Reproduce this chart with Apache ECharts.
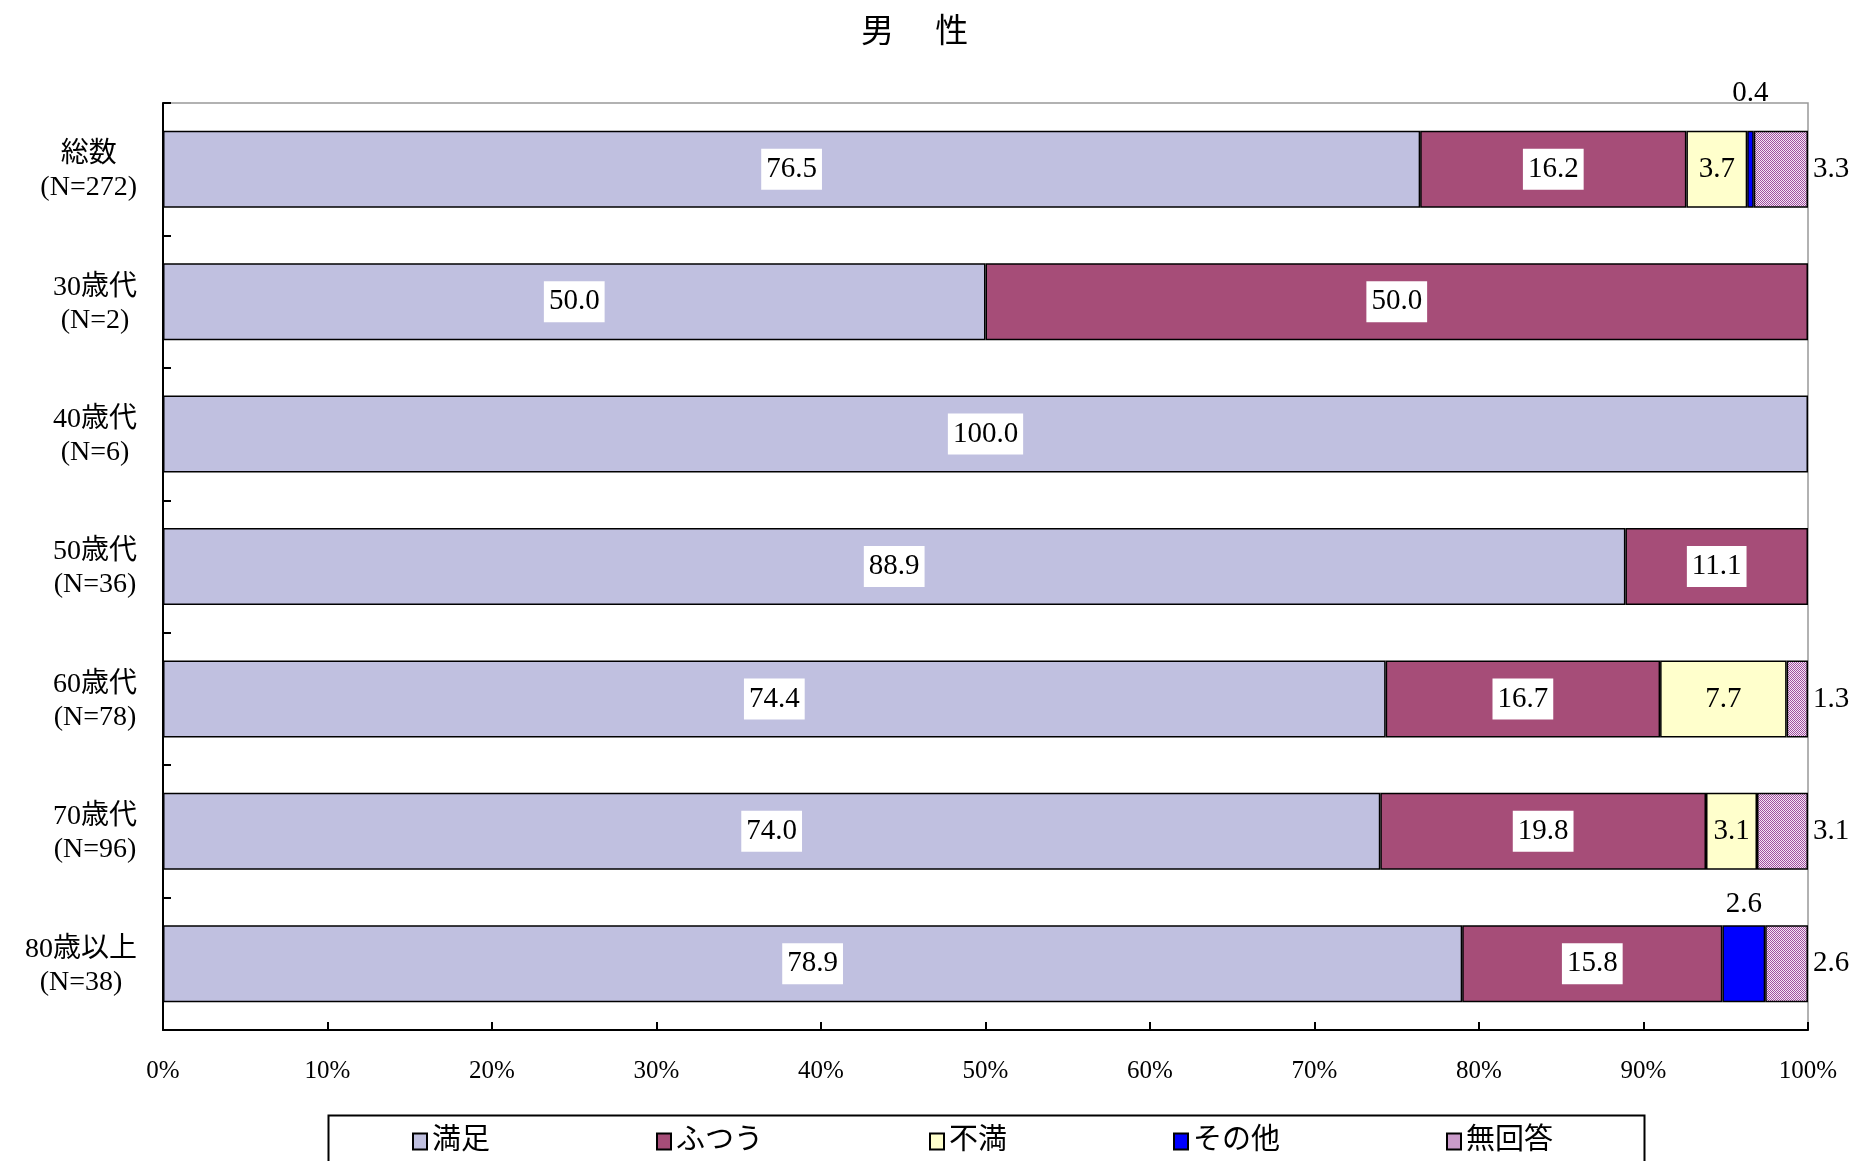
<!DOCTYPE html>
<html><head><meta charset="utf-8">
<script src="https://cdn.jsdelivr.net/npm/echarts@6/dist/echarts.min.js"></script>
<style>html,body{margin:0;padding:0;background:#fff}#c{width:1868px;height:1161px}</style>
</head><body><div id="c"></div>
<script>
const chartTitle = '男　 性';
const categories = ['総数', '30歳代', '40歳代', '50歳代', '60歳代', '70歳代', '80歳以上'];
const sampleSizes = ['(N=272)', '(N=2)', '(N=6)', '(N=36)', '(N=78)', '(N=96)', '(N=38)'];
const seriesNames = ['満足', 'ふつう', '不満', 'その他', '無回答'];
const manzoku  = [76.5, 50.0, 100.0, 88.9, 74.4, 74.0, 78.9];
const futsuu   = [16.2, 50.0, 0, 11.1, 16.7, 19.8, 15.8];
const fuman    = [3.7, 0, 0, 0, 7.7, 3.1, 0];
const sonota   = [0.4, 0, 0, 0, 0, 0, 2.6];
const mukaitou = [3.3, 0, 0, 0, 1.3, 3.1, 2.6];
const xTickLabels = ['0%','10%','20%','30%','40%','50%','60%','70%','80%','90%','100%'];

const FONT = "'Liberation Serif', 'Noto Sans CJK JP', serif";

function ditherPattern() {
  const c = document.createElement('canvas');
  c.width = 4; c.height = 4;
  const g = c.getContext('2d');
  g.fillStyle = '#F4E6F4'; g.fillRect(0, 0, 4, 4);
  g.fillStyle = '#A050A0';
  for (let y = 0; y < 4; y++) for (let x = 0; x < 4; x++) if ((x + y) % 2 === 0) g.fillRect(x, y, 1, 1);
  return c;
}

const colors = ['#C0C0E0', '#A64D78', '#FFFFCC', '#0000FF', { image: ditherPattern(), repeat: 'repeat' }];
const values = [manzoku, futsuu, fuman, sonota, mukaitou];
// 100% stacked: each row is scaled to its own total, labels show the raw values
const rowTotals = categories.map((_, ci) => values.reduce((s, arr) => s + arr[ci], 0));

const fmt = p => (p.data && p.data.raw) ? Number(p.data.raw).toFixed(1) : '';

const insideBoxLabel = {
  show: true, position: 'inside', formatter: fmt, color: '#000',
  fontFamily: FONT, fontSize: 29, backgroundColor: '#fff', padding: [9, 5, 3, 5]
};
const labelStyles = [
  insideBoxLabel,
  insideBoxLabel,
  { show: true, position: 'inside', formatter: fmt, color: '#000', fontFamily: FONT, fontSize: 29, padding: [6, 0, 0, 0] },
  { show: true, position: 'top', distance: 23, formatter: fmt, color: '#000', fontFamily: FONT, fontSize: 29 },
  { show: true, position: 'right', distance: 5, formatter: fmt, color: '#000', fontFamily: FONT, fontSize: 29, padding: [6, 0, 0, 0] }
];
// per-item label distance override for その他 on the last row
const sonotaDistance = { 6: 6 };

const series = seriesNames.map((name, si) => ({
  name, type: 'bar', stack: 'total', barWidth: 77,
  itemStyle: { color: colors[si], borderColor: '#000', borderWidth: 1.5 },
  label: labelStyles[si],
  emphasis: { disabled: true },
  data: values[si].map((v, ci) => {
    const item = { value: v === 0 ? '-' : v / rowTotals[ci] * 100, raw: v };
    if (si === 3 && sonotaDistance[ci] !== undefined) item.label = { distance: sonotaDistance[ci] };
    return item;
  })
}));

const chart = echarts.init(document.getElementById('c'), null, { renderer: 'canvas' });
chart.setOption({
  animation: false,
  backgroundColor: '#fff',
  title: { text: chartTitle, left: 856, top: 12, textStyle: { fontFamily: FONT, fontSize: 33, fontWeight: 'normal', color: '#000' } },
  grid: { left: 163, right: 60, top: 103, bottom: 131, show: true, borderColor: '#999', borderWidth: 1.5, backgroundColor: 'transparent' },
  xAxis: {
    type: 'value', min: 0, max: 100, interval: 10,
    axisLine: { show: true, lineStyle: { color: '#000', width: 2 } },
    axisTick: { show: true, inside: true, length: 8, lineStyle: { color: '#000', width: 2 } },
    splitLine: { show: false },
    axisLabel: { formatter: (v) => xTickLabels[Math.round(v / 10)], fontFamily: FONT, fontSize: 25, color: '#000', margin: 29 }
  },
  yAxis: {
    type: 'category', inverse: true,
    data: categories.map((c, i) => c + '\n' + sampleSizes[i]),
    axisLine: { show: true, lineStyle: { color: '#000', width: 2 } },
    axisTick: { show: true, inside: true, length: 8, lineStyle: { color: '#000', width: 2 } },
    axisLabel: {
      align: 'right', margin: 26, color: '#000', fontFamily: FONT, fontSize: 28, lineHeight: 33, padding: [4, 0, 0, 0],
      formatter: v => v.split('\n').map(l => '{c|' + l + '}').join('\n'),
      rich: { c: { align: 'center', fontFamily: FONT, fontSize: 28, lineHeight: 33, color: '#000' } }
    }
  },
  legend: {
    data: seriesNames, left: 407, top: 1122, icon: 'rect', itemWidth: 14, itemHeight: 16, itemGap: 166,
    textStyle: { fontFamily: FONT, fontSize: 29, color: '#000' }
  },
  graphic: [{
    type: 'rect', left: 326, top: 1113, shape: { width: 1316, height: 100 },
    style: { fill: 'none', stroke: '#000', lineWidth: 2 }, silent: true
  }],
  series
});
</script></body></html>
